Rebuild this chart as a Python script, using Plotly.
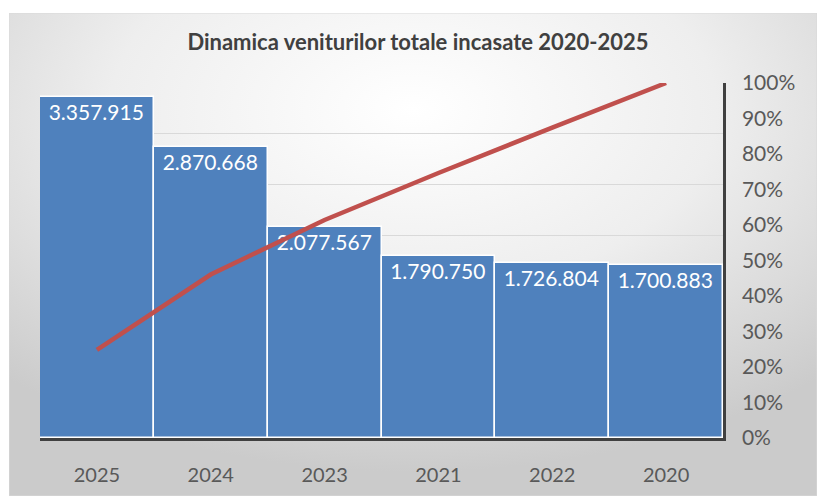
import base64
import numpy as np
import plotly.graph_objects as go

years = ["2025", "2024", "2023", "2021", "2022", "2020"]
venituri = [3357915, 2870668, 2077567, 1790750, 1726804, 1700883]
labels = ["3.357.915", "2.870.668", "2.077.567", "1.790.750", "1.726.804", "1.700.883"]
pct_ticks = [0, 0.1, 0.2, 0.3, 0.4, 0.5, 0.6, 0.7, 0.8, 0.9, 1.0]

cumul = np.cumsum(venituri) / np.sum(venituri)

W, H = 817, 496
FONT = "Lato"

fig = go.Figure()
fig.add_trace(go.Bar(
    x=years, y=venituri, text=labels,
    textposition="inside", insidetextanchor="end", textangle=0,
    textfont=dict(color="white", size=21, family=FONT),
    marker=dict(color="#4f81bd", line=dict(color="white", width=1.5)),
    cliponaxis=False, showlegend=False, hoverinfo="x+y",
))
fig.add_trace(go.Scatter(
    x=years, y=cumul, yaxis="y2", mode="lines",
    line=dict(color="#c0504d", width=4.5), showlegend=False,
))

svg = ('<svg xmlns="http://www.w3.org/2000/svg" width="808" height="483">'
       '<defs><radialGradient id="g" cx="0.5" cy="0.2" r="0.75">'
       '<stop offset="0" stop-color="#ffffff"/>'
       '<stop offset="0.5" stop-color="#eeeeee"/>'
       '<stop offset="1" stop-color="#cbcbcb"/></radialGradient></defs>'
       '<rect x="0" y="0" width="808" height="483" fill="url(#g)" stroke="#d9d9d9" stroke-width="1"/></svg>')
uri = "data:image/svg+xml;base64," + base64.b64encode(svg.encode()).decode()

fig.update_layout(
    width=W, height=H,
    margin=dict(l=0, r=0, t=0, b=0, autoexpand=False),
    paper_bgcolor="white", plot_bgcolor="rgba(0,0,0,0)",
    bargap=0,
    title=dict(text="<b>Dinamica veniturilor totale incasate 2020-2025</b>",
               x=418 / W, xanchor="center", y=(H - 42) / H, yanchor="middle",
               font=dict(size=22, color="#404040", family=FONT)),
    xaxis=dict(domain=[40 / W, 723 / W], type="category", automargin=False,
               showline=True, linecolor="#404040", linewidth=3,
               ticks="", ticklabelstandoff=17,
               tickfont=dict(size=20, color="#595959", family=FONT),
               showgrid=False, zeroline=False),
    yaxis=dict(domain=[(H - 438) / H, (H - 83) / H], range=[0, 3500000], dtick=500000,
               automargin=False,
               showticklabels=False, showline=False, ticks="",
               showgrid=True, gridcolor="#d9d9d9", gridwidth=1, zeroline=False),
    yaxis2=dict(overlaying="y", side="right", range=[0, 1], automargin=False,
                tickvals=pct_ticks, tickformat=".0%",
                showline=True, linecolor="#404040", linewidth=2.5,
                ticks="", ticklabelstandoff=12,
                tickfont=dict(size=21, color="#595959", family=FONT),
                showgrid=False, zeroline=False),
    images=[dict(source=uri, xref="paper", yref="paper",
                 x=9 / W, y=(H - 13) / H, sizex=(W - 9) / W, sizey=(H - 13) / H,
                 xanchor="left", yanchor="top", sizing="stretch", layer="below")],
)

fig.write_html("out.html", config={"displayModeBar": False},
               post_script="document.body.style.margin='0';document.body.style.overflow='hidden';")
